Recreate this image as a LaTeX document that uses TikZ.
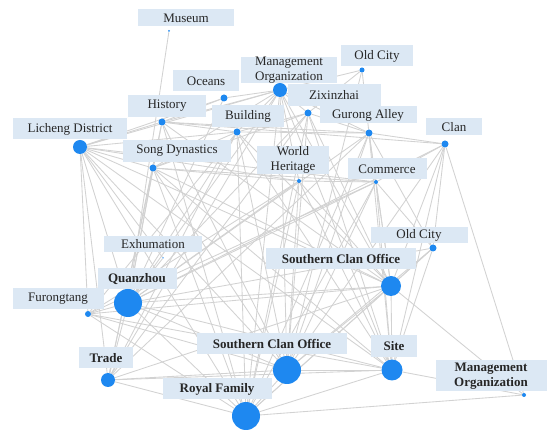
\documentclass[tikz,border=0pt]{standalone}
\usepackage{fontspec}
\setmainfont{Liberation Serif}
\usetikzlibrary{positioning}
\definecolor{hubblue}{RGB}{30,136,240}
\definecolor{tagfill}{RGB}{220,232,244}
\definecolor{linkgray}{RGB}{210,210,210}
\pgfdeclarelayer{bg}
\pgfsetlayers{bg,main}

\begin{document}
\begin{tikzpicture}[x=1pt,y=-1pt,
    tag/.style={fill=tagfill, text=black!85, inner sep=0pt, align=center,
                font=\fontsize{13}{15.5}\selectfont},
    boldtag/.style={tag, font=\fontsize{13}{15.5}\selectfont\bfseries},
    hub/.style={circle, fill=hubblue, inner sep=0pt, minimum size=#1},
    link/.style={draw=linkgray, line width=0.85pt}]
\begin{pgfonlayer}{bg}
\fill[white] (0,0) rectangle (547,430);
\end{pgfonlayer}
\useasboundingbox (0,0) rectangle (547,430);

% labels
\node[tag, minimum width=96pt, minimum height=17pt] (tMuseum) at (186,18) {Museum};
\node[tag, minimum width=96pt, minimum height=26pt] (tMgmtTop) at (289,70) {Management\\Organization};
\node[tag, minimum width=72pt, minimum height=21pt] (tOldTop) at (377,56) {Old City};
\node[tag, minimum width=66pt, minimum height=21pt] (tOceans) at (206,81) {Oceans};
\node[tag, minimum width=78pt, minimum height=22pt] (tHistory) at (167,106) {History};
\node[tag, minimum width=72pt, minimum height=22pt] (tBuilding) at (248,116) {Building};
\node[tag, minimum width=93pt, minimum height=22pt] (tZixin) at (334,95) {Zixinzhai};
\node[tag, minimum width=97pt, minimum height=17pt] (tGurong) at (368,115) {Gurong Alley};
\node[tag, minimum width=56pt, minimum height=17pt] (tClan) at (454,127) {Clan};
\node[tag, minimum width=114pt, minimum height=21pt] (tLicheng) at (70,129) {Licheng District};
\node[tag, minimum width=108pt, minimum height=22pt] (tSong) at (177,151) {Song Dynastics};
\node[tag, minimum width=72pt, minimum height=26pt] (tWorld) at (293,160) {World\\Heritage};
\node[tag, minimum width=79pt, minimum height=21pt] (tCommerce) at (387,169) {Commerce};
\node[tag, minimum width=98pt, minimum height=16pt] (tExhum) at (153,244) {Exhumation};
\node[tag, minimum width=97pt, minimum height=16pt] (tOldR) at (419,235) {Old City};
\node[boldtag, minimum width=150pt, minimum height=21pt] (tScoTop) at (341,259) {Southern Clan Office};
\node[boldtag, minimum width=79pt, minimum height=21pt] (tQuanzhou) at (137,279) {Quanzhou};
\node[tag, minimum width=91pt, minimum height=21pt] (tFurong) at (58,299) {Furongtang};
\node[boldtag, minimum width=54pt, minimum height=21pt] (tTrade) at (106,358) {Trade};
\node[boldtag, minimum width=150pt, minimum height=21pt] (tScoBot) at (272,344) {Southern Clan Office};
\node[boldtag, minimum width=46pt, minimum height=22pt] (tSite) at (394,346) {Site};
\node[boldtag, minimum width=111pt, minimum height=31pt] (tMgmtBot) at (491,376) {Management\\Organization};
\node[boldtag, minimum width=109pt, minimum height=21pt] (tRoyal) at (217,389) {Royal Family};

% keywords
\node[hub=2pt] (museum) at (169,31) {};
\node[hub=14pt] (mgmtTop) at (280,90) {};
\node[hub=5pt] (oldTop) at (362,70) {};
\node[hub=7pt] (oceans) at (224,98) {};
\node[hub=7pt] (history) at (162,122) {};
\node[hub=7pt] (building) at (237,132) {};
\node[hub=7pt] (zixin) at (308,113) {};
\node[hub=7pt] (gurong) at (369,133) {};
\node[hub=7pt] (clan) at (445,144) {};
\node[hub=14pt] (licheng) at (80,147) {};
\node[hub=7pt] (song) at (153,168) {};
\node[hub=4pt] (world) at (299,181) {};
\node[hub=4pt] (commerce) at (376,182) {};
\node[hub=1.5pt] (exhum) at (163,258) {};
\node[hub=7pt] (oldR) at (433,248) {};
\node[hub=20pt] (scoTop) at (391,286) {};
\node[hub=28pt] (quanzhou) at (128,303) {};
\node[hub=6pt] (furong) at (88,314) {};
\node[hub=14pt] (trade) at (108,380) {};
\node[hub=28pt] (scoBot) at (287,370) {};
\node[hub=21pt] (site) at (392,370) {};
\node[hub=4pt] (mgmtBot) at (524,395) {};
\node[hub=28pt] (royal) at (246,416) {};

\begin{pgfonlayer}{bg}
\path[link]
    (museum) edge (quanzhou)
    (licheng) edge (history) edge (oceans) edge (building) edge (song)
              edge (mgmtTop) edge (world) edge (quanzhou) edge (furong)
              edge (trade) edge (royal) edge (scoBot) edge (site)
              edge (scoTop) edge (exhum) edge (commerce)
    (quanzhou) edge (history) edge (song) edge (building) edge (oceans)
               edge (mgmtTop) edge (zixin) edge (world) edge (gurong)
               edge (commerce) edge (clan) edge (oldR) edge (scoTop)
               edge (scoBot) edge (site) edge (royal) edge (trade)
               edge (furong) edge (exhum)
    (scoBot) edge (history) edge (song) edge (building) edge (mgmtTop)
             edge (zixin) edge (world) edge (gurong) edge (commerce)
             edge (clan) edge (oldTop) edge (oldR) edge (scoTop)
             edge (site) edge (royal) edge (trade) edge (furong)
    (royal) edge (history) edge (song) edge (building) edge (mgmtTop)
            edge (zixin) edge (world) edge (gurong) edge (commerce)
            edge (scoTop) edge (site) edge (trade) edge (furong)
            edge (mgmtBot) edge (oldR)
    (site) edge (song) edge (building) edge (mgmtTop) edge (zixin)
           edge (world) edge (gurong) edge (commerce) edge (clan)
           edge (oldR) edge (scoTop) edge (trade) edge (furong)
           edge (mgmtBot)
    (scoTop) edge (history) edge (song) edge (building) edge (mgmtTop)
             edge (zixin) edge (world) edge (gurong) edge (commerce)
             edge (clan) edge (oldR) edge (trade) edge (furong)
             edge (mgmtBot)
    (mgmtTop) edge (oceans) edge (history) edge (building) edge (zixin)
              edge (oldTop) edge (gurong) edge (song) edge (world)
              edge (trade)
    (gurong) edge (zixin) edge (oldTop) edge (clan) edge (commerce)
             edge (building) edge (history) edge (trade) edge (oldR)
    (clan) edge (commerce) edge (oldR) edge (mgmtBot) edge (history)
    (commerce) edge (oldR) edge (world) edge (song) edge (furong)
    (zixin) edge (building) edge (oldTop) edge (song) edge (trade)
    (history) edge (building) edge (oceans) edge (trade)
    (song) edge (trade) edge (building) edge (world)
    (world) edge (furong)
    (building) edge (trade) edge (furong);
\end{pgfonlayer}
\end{tikzpicture}
\end{document}
